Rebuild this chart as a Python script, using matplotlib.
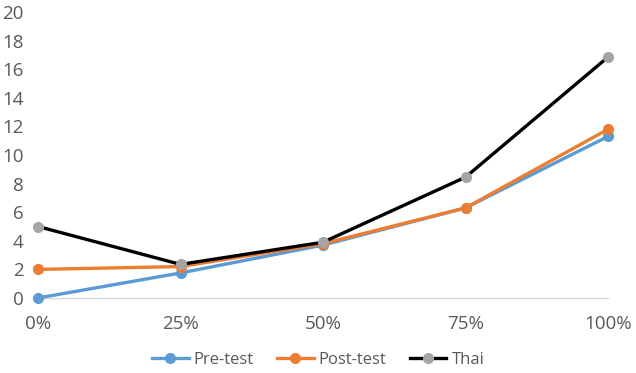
import matplotlib
matplotlib.use("Agg")
import matplotlib.pyplot as plt

categories = ["0%", "25%", "50%", "75%", "100%"]
pre_test = [0, 1.75, 3.7, 6.3, 11.3]
post_test = [2, 2.2, 3.8, 6.3, 11.8]
thai = [5, 2.35, 3.9, 8.45, 16.85]

plt.rcParams['font.family'] = ['Open Sans', 'DejaVu Sans']

W, H = 636, 373
fig = plt.figure(figsize=(W/100, H/100), dpi=100)
ax = fig.add_axes([38/W, 75/H, (608-38)/W, (298-12)/H])

x = list(range(len(categories)))
ax.plot(x, pre_test, color="#5B9BD5", lw=2.4, marker="o", ms=7, label="Pre-test", clip_on=False, zorder=3)
ax.plot(x, post_test, color="#ED7D31", lw=2.4, marker="o", ms=7, label="Post-test", clip_on=False, zorder=4)
ax.plot(x, thai, color="black", lw=2.4, marker="o", ms=7, mfc="#A5A5A5", mec="#A5A5A5", label="Thai", clip_on=False, zorder=5)

ax.set_xlim(0, 4)
ax.set_ylim(0, 20)
ax.set_yticks(range(0, 21, 2))
ax.set_xticks(x)
ax.set_xticklabels(categories)
for s in ["top", "right", "left"]:
    ax.spines[s].set_visible(False)
ax.spines["bottom"].set_color("#D9D9D9")
ax.spines["bottom"].set_linewidth(1)
ax.tick_params(axis="both", length=0, labelsize=13.5, colors="#595959")
ax.tick_params(axis="y", pad=10.5)
ax.tick_params(axis="x", pad=12)

fig.legend(loc="center", bbox_to_anchor=(0.5, 1 - 360/H), ncol=3, frameon=False,
           fontsize=12, labelcolor="#595959", handlelength=2.2, handletextpad=0.3,
           columnspacing=1.4)

fig.savefig("out.png", dpi=100)
